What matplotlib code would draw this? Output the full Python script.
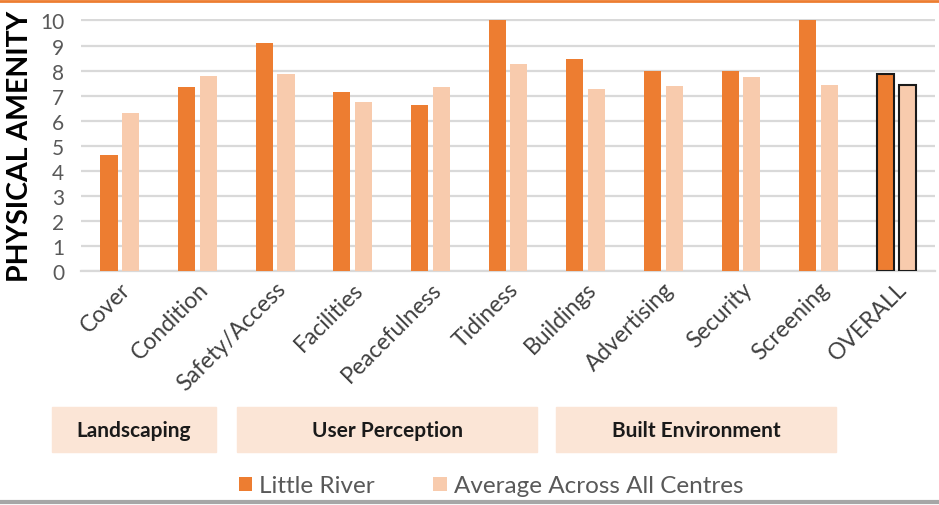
from matplotlib import pyplot as plt
from matplotlib.patches import Rectangle
import numpy as np

plt.rcParams["font.family"] = ["Lato", "DejaVu Sans"]

categories = ["Cover", "Condition", "Safety/Access", "Facilities", "Peacefulness",
              "Tidiness", "Buildings", "Advertising", "Security", "Screening", "OVERALL"]
little_river = [4.64, 7.34, 9.09, 7.15, 6.62, 10.0, 8.45, 7.98, 8.0, 10.0, 7.88]
average_all = [6.3, 7.78, 7.86, 6.75, 7.35, 8.25, 7.27, 7.38, 7.73, 7.42, 7.41]
groups = ["Landscaping", "User Perception", "Built Environment"]

fig = plt.figure(figsize=(9.39, 5.06), dpi=100)
ax = fig.add_axes([0.0863, 0.4625, 0.9095, 0.4975])

x = np.arange(len(categories))
w = 0.22
edges = ["none"] * (len(categories) - 1) + ["#1a1a1a"]
ax.bar(x - 0.14, little_river, width=w, color="#ED7D31", label="Little River",
       edgecolor=edges, linewidth=1.5, zorder=3)
ax.bar(x + 0.14, average_all, width=w, color="#F8CBAD", label="Average Across All Centres",
       edgecolor=edges, linewidth=1.5, zorder=3)

ax.set_xlim(-0.5, len(categories) - 0.5)
ax.set_ylim(0, 10.05)
ax.set_yticks(range(0, 11))
ax.yaxis.grid(True, color="#D9D9D9", linewidth=1.6, zorder=0)
ax.tick_params(axis="y", length=0, pad=12, labelsize=15, labelcolor="#595959")
ax.tick_params(axis="x", length=0, pad=5)
ax.set_xticks(x)
ax.set_xticklabels(categories, rotation=45, ha="right", rotation_mode="anchor",
                   fontsize=16.5, color="#404040")
for s in ["top", "right", "left"]:
    ax.spines[s].set_visible(False)
ax.spines["bottom"].set_color("#D9D9D9")
ax.spines["bottom"].set_linewidth(1.6)

fig.text(0.021, 0.711, "PHYSICAL AMENITY", rotation=90, ha="center", va="center",
         fontsize=20.5, fontweight="bold", color="black")

# group boxes under the labels
W, H = 939, 506
box_px = [(52, 216), (237, 537), (556, 836)]
for name, (x0, x1) in zip(groups, box_px):
    fig.patches.append(Rectangle((x0 / W, 1 - 453 / H), (x1 - x0) / W, 45 / H,
                                 transform=fig.transFigure, color="#FBE5D6", zorder=0))
    fig.text((x0 + x1) / 2 / W, 1 - 431 / H, name, ha="center", va="center",
             fontsize=15, fontweight="bold", color="#1a1a1a")

fig.legend(loc="center", bbox_to_anchor=(0.523, 1 - 487 / H), ncol=2, frameon=False,
           fontsize=17.5, labelcolor="#595959", handlelength=0.55, handleheight=0.55,
           handletextpad=0.3, columnspacing=2.4)

# frame lines
fig.add_artist(plt.Line2D([0, 1], [1 - 2 / H, 1 - 2 / H], color="#ED7D31", linewidth=2,
                          transform=fig.transFigure))
fig.add_artist(plt.Line2D([0, 1], [1 - 503 / H, 1 - 503 / H], color="#A6A6A6", linewidth=3,
                          transform=fig.transFigure))

plt.savefig("out.png")
